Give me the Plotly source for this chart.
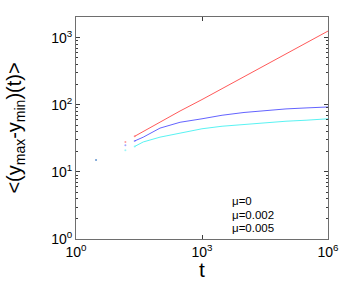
import plotly.graph_objects as go

t = [3, 15, 25, 40, 100, 300, 1000, 3000, 10000, 30000, 100000, 300000, 1000000]
y_mu0 = [15, 28, 34, 40, 56, 81, 120, 174, 263, 380, 575, 850, 1260]
y_mu002 = [15, 25, 29, 33, 45, 55, 62, 70, 77, 82, 87, 90, 93]
y_mu005 = [15, 21, 24, 28, 33, 38, 44, 48, 51, 54, 57, 59, 62]

series_names = ["μ=0", "μ=0.002", "μ=0.005"]
series = [y_mu0, y_mu002, y_mu005]
colors = ["rgba(255,60,60,0.85)", "rgba(60,60,255,0.8)", "rgba(60,240,240,0.85)"]

x_tickvals = [1, 1e3, 1e6]
x_ticktext = ["10<sup>0</sup>", "10<sup>3</sup>", "10<sup>6</sup>"]
y_tickvals = [1, 10, 100, 1000]
y_ticktext = ["10<sup>0</sup>", "10<sup>1</sup>", "10<sup>2</sup>", "10<sup>3</sup>"]

FONT = "Liberation Sans, Arial"
fig = go.Figure()
for name, ys, c in zip(series_names, series, colors):
    # sparse early samples appear as isolated dots
    fig.add_trace(go.Scatter(x=t[:3], y=ys[:3], mode="markers", name=name,
                             marker=dict(color=c, size=2, opacity=0.6), showlegend=False))
    fig.add_trace(go.Scatter(x=t[2:], y=ys[2:], mode="lines", name=name,
                             line=dict(color=c, width=1), showlegend=False))

for i, name in enumerate(series_names):
    fig.add_annotation(x=0.61, y=0.17 - i * 0.06, xref="paper", yref="paper",
                       text=name, showarrow=False, xanchor="left", yanchor="middle",
                       font=dict(size=11.5, color="black", family=FONT))

axis_common = dict(type="log", showgrid=False, zeroline=False, showline=True,
                   linecolor="rgb(110,110,110)", linewidth=1, mirror="ticks",
                   ticks="inside", tickcolor="rgb(60,60,60)",
                   tickfont=dict(size=14, color="black", family=FONT),
                   automargin=False)

fig.update_xaxes(**axis_common, range=[0, 6], tickvals=x_tickvals, ticktext=x_ticktext,
                 ticklen=4,
                 title=dict(text="t", font=dict(size=21, color="black", family=FONT),
                            standoff=2))
fig.update_yaxes(**axis_common, range=[0, 3.31], tickvals=y_tickvals, ticktext=y_ticktext,
                 ticklen=4,
                 minor=dict(ticks="inside", ticklen=2, tickcolor="rgb(60,60,60)",
                            tickvals=[v * m for v in [1, 10, 100, 1000] for m in range(2, 10)]),
                 title=dict(text="<(y<sub>max</sub>-y<sub>min</sub>)(t)>",
                            font=dict(size=20, color="black", family=FONT),
                            standoff=24))

fig.update_layout(width=349, height=281, margin=dict(l=76, r=21, t=17, b=42),
                  paper_bgcolor="white", plot_bgcolor="white")
fig.write_html("out.html", config={"displayModeBar": False},
               post_script="document.body.style.margin='0';")
